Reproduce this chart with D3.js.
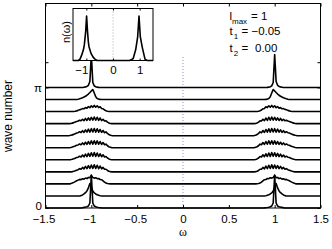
<!DOCTYPE html>
<html>
<head>
<meta charset="utf-8">
<script src="https://cdn.jsdelivr.net/npm/d3@7"></script>
<style>
  html, body { margin: 0; padding: 0; background: #fff; }
  svg { display: block; font-family: "Liberation Sans", Arial, sans-serif; }
  .axis text { font-size: 11.5px; fill: #000; }
  .axis line, .axis path { stroke: #000; }
</style>
</head>
<body>
<div id="chart"></div>
<script>
// Sampling grid of the lower band (the upper band is its mirror image, omega -> -omega)
const OMEGA_L = [-1.240,-1.224,-1.208,-1.192,-1.176,-1.160,-1.144,-1.128,-1.112,-1.096,-1.080,
                 -1.064,-1.048,-1.032,-1.016,-1.000,-0.984,-0.968,-0.952,-0.936,-0.920,-0.904,
                 -0.888,-0.872,-0.856,-0.840,-0.824,-0.808,-0.792,-0.776,-0.760,-0.744,-0.728];

// wave numbers of the stacked spectra, in units of pi
const WAVE_K = [0, 0.1, 0.2, 0.3, 0.4, 0.5, 0.6, 0.7, 0.8, 0.9, 1.0];

// spectral weight on OMEGA_L for each wave number (arbitrary units)
const H_00 = [0,0,0,0,0,0,0,0,0,0.3,0.6,0.9,1.3,2,5,33,5,2,1.2,0.8,0.5,0.3,0.1,0,0,0,0,0,0,0,0,0,0];
const H_01 = [0,0,0,0,0,0,0,0,0.3,1,2,3.3,5,8,12.5,9,5,3,2,1.2,0.6,0.2,0,0,0,0,0,0,0,0,0,0,0];
const H_02 = [0,0.3,0.8,1.5,2.3,3.1,3.8,4.5,4.3,5.2,4.8,5.8,5.3,6.5,6.2,8.5,6.4,5.8,6.2,5.2,5.4,4.4,4.2,3.0,1.8,0.9,0.4,0.1,0,0,0,0,0];
const H_03 = [0,0,0.2,0.5,1.0,1.6,2.2,3.2,2.6,4.4,3.0,5.4,3.2,6.2,3.4,6.8,3.5,7.0,3.4,6.6,3.2,5.8,3.0,4.4,2.6,2.6,1.4,0.6,0.2,0,0,0,0];
const H_04 = [0,0.2,0.5,1.0,1.6,2.2,2.6,3.6,2.8,4.8,3.0,5.6,3.2,6.4,3.4,7.0,3.5,7.2,3.4,6.8,3.3,6.0,3.1,5.0,2.8,3.2,1.8,0.9,0.3,0.1,0,0,0];
const H_05 = [0,0.3,0.7,1.2,1.8,2.5,2.8,3.8,3.0,4.8,3.2,5.5,3.4,6.2,3.5,6.8,3.6,7.0,3.6,6.8,3.5,6.2,3.3,5.2,3.0,3.6,2.0,1.0,0.4,0.1,0,0,0];
const H_06 = [0.1,0.4,0.8,1.3,2.0,2.6,3.0,4.0,3.1,5.0,3.3,5.8,3.5,6.5,3.6,7.0,3.7,7.2,3.6,6.9,3.5,6.2,3.3,5.2,3.0,3.8,2.2,1.1,0.4,0.1,0,0,0];
const H_07 = [0,0.2,0.5,1.0,1.6,2.2,2.6,3.4,2.8,4.4,3.0,5.2,3.2,5.8,3.4,6.3,3.5,6.6,3.4,6.4,3.3,5.6,3.0,4.4,2.6,2.8,1.5,0.7,0.2,0,0,0,0];
const H_08 = [0,0,0,0,0.3,0.7,1.2,1.8,2.2,3.0,2.8,4.0,3.4,5.0,3.9,5.8,4.3,6.2,4.4,5.8,4.0,4.8,3.0,2.8,1.6,0.8,0.3,0.1,0,0,0,0,0];
const H_09 = [0,0,0,0,0,0,0.3,0.7,1.2,1.8,2.5,3.3,4.3,5.5,7,8.6,10,6.5,2.8,1.1,0.4,0.1,0,0,0,0,0,0,0,0,0,0,0];
const H_10 = [0,0,0,0,0,0,0,0,0,0,0.3,0.6,1.0,2.2,6,33,5,1.6,0.7,0.3,0.1,0,0,0,0,0,0,0,0,0,0,0,0];
const SPECTRA = [H_00, H_01, H_02, H_03, H_04, H_05, H_06, H_07, H_08, H_09, H_10];

// inset: k-integrated density n(omega)
const INSET_W_L = [-1.30,-1.237,-1.175,-1.11,-1.075,-1.025,-0.99,-0.96,-0.925,-0.90,-0.825,-0.74,-0.675,-0.60];
const INSET_N_L = [0,0.03,0.12,0.24,0.35,0.65,1.0,0.69,0.42,0.31,0.16,0.07,0.03,0];
const INSET_W_R = [0.62,0.70,0.76,0.85,0.925,0.975,1.025,1.10,1.20,1.28];
const INSET_N_R = [0,0.02,0.05,0.24,0.53,1.0,0.53,0.29,0.03,0];

const X_TICKS = [-1.5, -1, -0.5, 0, 0.5, 1, 1.5];
const X_TICK_LABELS = ["\u22121.5", "\u22121", "\u22120.5", "0", "0.5", "1", "1.5"];
const Y_TICKS = [0, Math.PI, 3.8];
const Y_TICK_LABELS = ["0", "\u03c0", ""];
const INSET_TICKS = [-1, 0, 1];
const INSET_TICK_LABELS = ["\u22121", "0", "1"];

(function () {
  const W = 332, H = 249;
  const AMP = 0.026;          // spectral units -> wave-number units
  const YMAX = 5.33;

  const svg = d3.select("#chart").append("svg")
    .attr("width", W).attr("height", H).attr("viewBox", `0 0 ${W} ${H}`);

  const x = d3.scaleLinear().domain([-1.5, 1.5]).range([45.5, 320.5]);
  const y = d3.scaleLinear().domain([0, YMAX]).range([208, 3.5]);

  // dotted omega = 0 guide
  svg.append("line")
    .attr("x1", x(0)).attr("x2", x(0)).attr("y1", y(0)).attr("y2", y(3.94))
    .attr("stroke", "#8f8fd6").attr("stroke-width", 1).attr("stroke-dasharray", "1,2");

  // stacked spectra
  const line = d3.line().x(d => x(d[0])).y(d => y(d[1]));
  SPECTRA.forEach((h, i) => {
    const k = WAVE_K[i] * Math.PI;
    const left = OMEGA_L.map((w, j) => [w, k + AMP * h[j]]);
    const right = OMEGA_L.map((w, j) => [-w, k + AMP * h[j]]).reverse();
    const pts = [[-1.5, k], ...left, ...right, [1.5, k]];
    svg.append("path").datum(pts).attr("d", line)
      .attr("fill", "none").attr("stroke", "#000").attr("stroke-width", 1.6)
      .attr("stroke-linejoin", "round");
  });

  // axes (ticks inward, mirrored on top/right)
  svg.append("g").attr("class", "axis").attr("transform", `translate(0,${y(0)})`)
    .call(d3.axisBottom(x).tickValues(X_TICKS).tickFormat((d, i) => X_TICK_LABELS[i])
      .tickSizeInner(-3).tickSizeOuter(0).tickPadding(6.5))
    .call(g => g.select(".domain").remove())
    .call(g => g.selectAll("text").attr("dx", d => d < 0 ? -2 : 0));
  svg.append("g").attr("class", "axis").attr("transform", `translate(0,${y(YMAX)})`)
    .call(d3.axisTop(x).tickValues(X_TICKS).tickFormat("").tickSizeInner(-3).tickSizeOuter(0))
    .call(g => g.select(".domain").remove());
  svg.append("g").attr("class", "axis").attr("transform", `translate(${x(-1.5)},0)`)
    .call(d3.axisLeft(y).tickValues(Y_TICKS).tickFormat((d, i) => Y_TICK_LABELS[i])
      .tickSizeInner(-3).tickSizeOuter(0).tickPadding(3.5))
    .call(g => g.select(".domain").remove())
    .call(g => g.selectAll("text").attr("dy", d => d === 0 ? "0.1em" : "0.32em"));
  svg.append("g").attr("class", "axis").attr("transform", `translate(${x(1.5)},0)`)
    .call(d3.axisRight(y).tickValues(Y_TICKS).tickFormat("").tickSizeInner(-3).tickSizeOuter(0))
    .call(g => g.select(".domain").remove());
  svg.append("rect")
    .attr("x", x(-1.5)).attr("y", y(YMAX)).attr("width", x(1.5) - x(-1.5)).attr("height", y(0) - y(YMAX))
    .attr("fill", "none").attr("stroke", "#000").attr("stroke-width", 1);

  // axis labels
  svg.append("text").attr("transform", "translate(12,116) rotate(-90)")
    .attr("text-anchor", "middle").attr("font-size", "12px").text("wave number");
  svg.append("text").attr("x", x(0)).attr("y", 236)
    .attr("text-anchor", "middle").attr("font-size", "12px")
    .attr("font-family", "'Liberation Serif', serif").text("\u03c9");

  // annotation
  const note = svg.append("g").attr("font-size", "11.5px");
  const t1 = note.append("text");
  t1.append("tspan").attr("x", 229.5).attr("y", 19.5).text("l");
  t1.append("tspan").attr("x", 232).attr("y", 23.5).attr("font-size", "8px").text("max");
  t1.append("tspan").attr("x", 251).attr("y", 19.5).text("= 1");
  const t2 = note.append("text");
  t2.append("tspan").attr("x", 229.5).attr("y", 35).text("t");
  t2.append("tspan").attr("x", 233.8).attr("y", 39).attr("font-size", "8px").text("1");
  t2.append("tspan").attr("x", 241.5).attr("y", 35).text("= \u22120.05");
  const t3 = note.append("text");
  t3.append("tspan").attr("x", 229.5).attr("y", 51.5).text("t");
  t3.append("tspan").attr("x", 233.8).attr("y", 55.5).attr("font-size", "8px").text("2");
  t3.append("tspan").attr("x", 241.5).attr("y", 51.5).text("=");
  t3.append("tspan").attr("x", 255).attr("y", 51.5).text("0.00");

  // inset
  const xi = d3.scaleLinear().domain([-1.5, 1.5]).range([73, 153]);
  const yi = d3.scaleLinear().domain([0, 1.17]).range([60.5, 8.5]);
  const inset = svg.append("g");
  inset.append("rect").attr("x", 73).attr("y", 8.5).attr("width", 80).attr("height", 52)
    .attr("fill", "#fff").attr("stroke", "none");
  inset.append("line")
    .attr("x1", xi(0)).attr("x2", xi(0)).attr("y1", yi(0)).attr("y2", yi(1.17))
    .attr("stroke", "#aaa").attr("stroke-width", 1).attr("stroke-dasharray", "1,2");
  const ipts = [[-1.5, 0],
    ...INSET_W_L.map((w, j) => [w, INSET_N_L[j]]),
    ...INSET_W_R.map((w, j) => [w, INSET_N_R[j]]),
    [1.5, 0]];
  inset.append("path").datum(ipts)
    .attr("d", d3.line().x(d => xi(d[0])).y(d => yi(d[1])))
    .attr("fill", "none").attr("stroke", "#000").attr("stroke-width", 1.6).attr("stroke-linejoin", "round");
  inset.append("g").attr("class", "axis").attr("transform", `translate(0,${yi(0)})`)
    .call(d3.axisBottom(xi).tickValues(INSET_TICKS).tickFormat((d, i) => INSET_TICK_LABELS[i])
      .tickSizeInner(-2).tickSizeOuter(0).tickPadding(5))
    .call(g => g.select(".domain").remove())
    .call(g => g.selectAll("text").attr("dx", d => d < 0 ? -5 : 0));
  inset.append("g").attr("class", "axis").attr("transform", `translate(0,${yi(1.17)})`)
    .call(d3.axisTop(xi).tickValues(INSET_TICKS).tickFormat("").tickSizeInner(-2).tickSizeOuter(0))
    .call(g => g.select(".domain").remove());
  inset.append("rect").attr("x", 73).attr("y", 8.5).attr("width", 80).attr("height", 52)
    .attr("fill", "none").attr("stroke", "#000").attr("stroke-width", 1);
  inset.append("text").attr("transform", "translate(70,32) rotate(-90)")
    .attr("text-anchor", "middle").attr("font-size", "11px").text("n(\u03c9)");
})();
</script>
</body>
</html>
